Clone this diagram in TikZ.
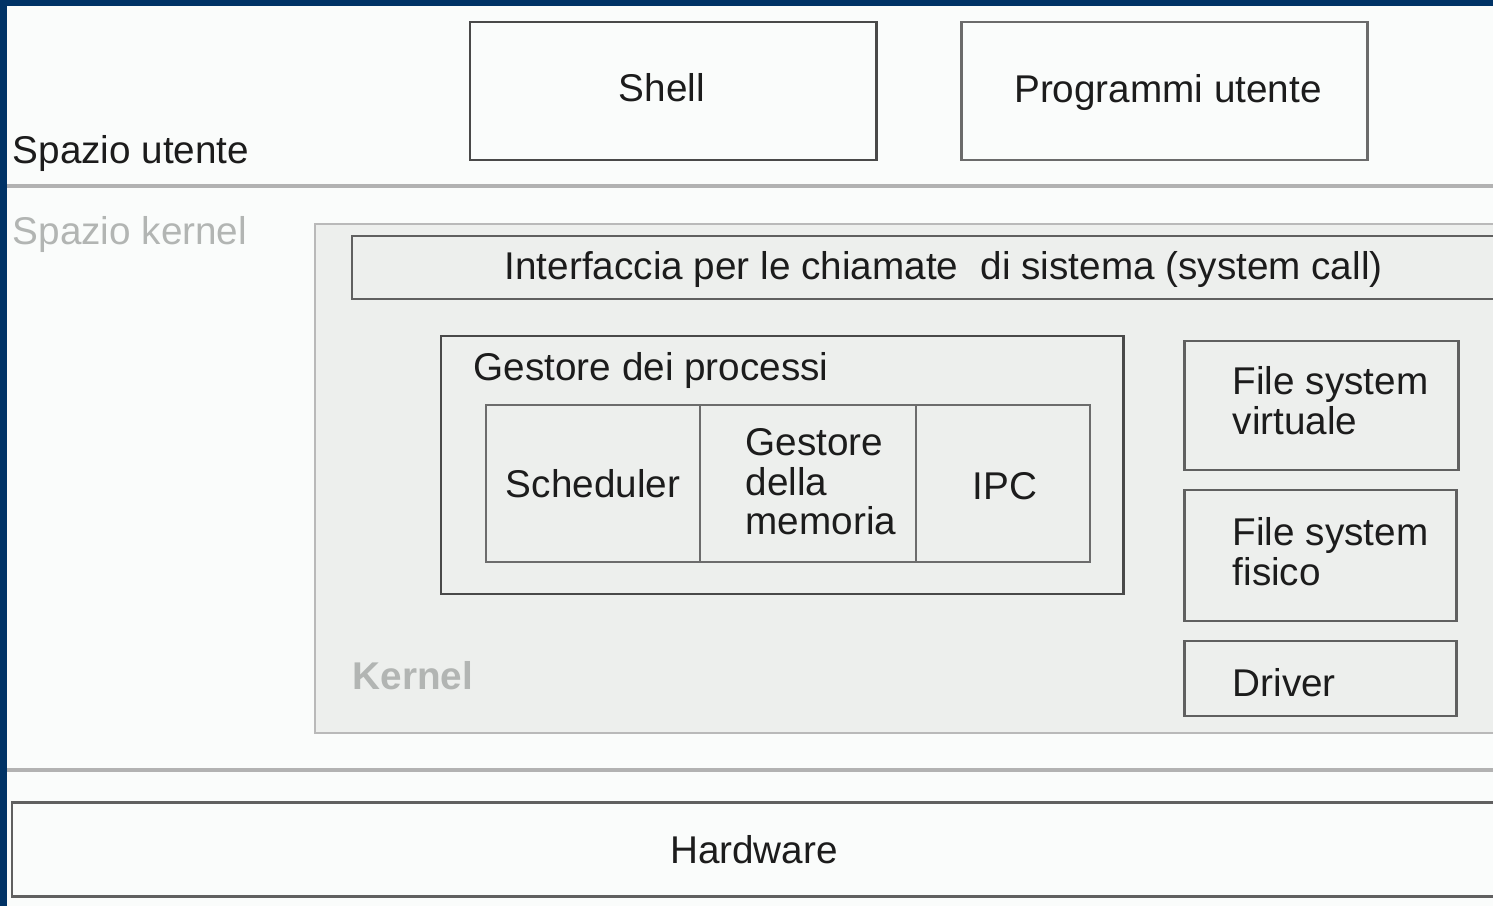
\documentclass[tikz,border=0pt]{standalone}
\usepackage{fontspec}
\setmainfont{Liberation Sans}
\usetikzlibrary{fit}
\definecolor{bandblue}{RGB}{0,51,102}
\definecolor{paper}{RGB}{250,252,251}
\definecolor{kernfill}{RGB}{237,239,237}
\definecolor{ink}{RGB}{28,28,28}
\definecolor{faint}{RGB}{178,181,179}
\tikzset{
	box/.style={draw=ink!80, line width=0.85pt, inner sep=0pt},
	cellbox/.style={draw=gray!85!black, line width=0.7pt, inner sep=0pt},
	softbox/.style={draw=gray!55, line width=0.85pt, inner sep=0pt},
	lbl/.style={font=\fontsize{11}{11.2}\selectfont, text=ink, inner sep=0pt},
	dim/.style={lbl, text=faint},
	sepline/.style={draw=gray!60, line width=0.9pt}
}
\begin{document}
\begin{tikzpicture}[x=0.01cm,y=-0.01cm]
		\useasboundingbox (0,0) rectangle (1493,906);
		\fill[paper] (0,0) rectangle (1493,906);
		\clip (0,0) rectangle (1493,906);
		\fill[bandblue] (0,0) rectangle (1493,6);
		\fill[bandblue] (0,0) rectangle (7,906);
		
		% spazio utente
		\node[box, fit={(470,22) (876,160)}] (shell) {};
		\node[box, draw=ink!65, fit={(961,22) (1367,160)}] (prog) {};
		\node[lbl, anchor=base] (shelltxt) at (662,101) {Shell};
		\node[lbl, anchor=base] (progtxt) at (1168,102) {Programmi utente};
		\node[lbl, anchor=base west] (user) at (12,163) {Spazio utente};
		\draw[sepline] (7,186) -- (1493,186);
		
		% spazio kernel
		\node[dim, anchor=base west] (kspace) at (12,245) {Spazio kernel};
		\node[softbox, fill=kernfill, fit={(315,224) (1530,733)}] (kernel) {};
		\node[box, draw=ink!70, fit={(352,236) (1530,299)}] (syscall) {};
		\node[lbl, anchor=base west] (syscalltxt) at (504,279) {Interfaccia per le chiamate\hspace{0.3em} di sistema (system call)};
		
		\node[box, fit={(441,336) (1123,594)}] (proc) {};
		\node[lbl, anchor=base west] (proctxt) at (473,380) {Gestore dei processi};
		\node[cellbox, fit={(486,405) (700,562)}] (sched) {};
		\node[cellbox, fit={(700,405) (916,562)}] (mem) {};
		\node[cellbox, fit={(916,405) (1090,562)}] (ipc) {};
		\node[lbl, anchor=base] (schedtxt) at (593,497) {Scheduler};
		\node[lbl, anchor=north west, align=left] (memtxt) at (745,428) {Gestore\\della\\memoria};
		\node[lbl, anchor=base] (ipctxt) at (1005,499) {IPC};
		
		\node[box, draw=ink!70, fit={(1184,341) (1458,470)}] (fsv) {};
		\node[box, draw=ink!70, fit={(1184,490) (1456,621)}] (fsf) {};
		\node[box, draw=ink!70, fit={(1184,641) (1456,716)}] (drv) {};
		\node[lbl, anchor=north west, align=left] (fsvtxt) at (1232,366) {File system\\virtuale};
		\node[lbl, anchor=north west, align=left] (fsftxt) at (1232,517) {File system\\fisico};
		\node[lbl, anchor=base west] (drvtxt) at (1232,696) {Driver};
		\node[dim, font=\fontsize{11}{11.2}\selectfont\bfseries, anchor=base west] (kerneltxt) at (352,689) {Kernel};
		\draw[sepline] (7,770) -- (1493,770);
		
		% hardware
		\node[box, draw=ink!70, fit={(12,802) (1530,896)}] (hw) {};
		\node[lbl, anchor=base] (hwtxt) at (754,863) {Hardware};
		
		\end{tikzpicture}
\end{document}
